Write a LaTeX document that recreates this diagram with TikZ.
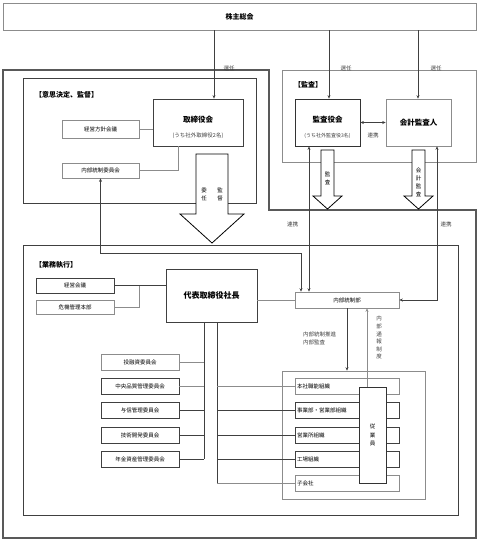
\documentclass[tikz,border=0pt]{standalone}
\usepackage{fontspec}
\setmainfont{Noto Sans CJK JP}
\usetikzlibrary{arrows.meta}
\definecolor{lg}{gray}{0.55}
\definecolor{dg}{gray}{0.25}
\tikzset{
  bx/.style={draw=lg, fill=white, inner sep=0pt, line width=0.6pt, font=\fontsize{5.5}{7}\selectfont},
  dbx/.style={bx, draw=dg, line width=0.8pt},
  frame/.style={draw=dg, line width=0.8pt},
  gframe/.style={draw=lg, line width=0.6pt},
  ln/.style={draw=dg, line width=0.6pt},
  gln/.style={draw=lg, line width=0.6pt},
  arr/.style={ln, -{Stealth[length=3.5pt,width=3pt]}},
  darr/.style={ln, {Stealth[length=3.5pt,width=3pt]}-{Stealth[length=3.5pt,width=3pt]}},
  bigarr/.style={draw=black, fill=white, line width=0.8pt, line join=miter},
  lbl/.style={inner sep=0pt, font=\fontsize{5.5}{7}\selectfont},
  vlbl/.style={inner sep=0pt, align=center, font=\fontsize{5.5}{8}\selectfont},
  ttl/.style={inner sep=0pt, font=\fontsize{7}{8}\selectfont\bfseries},
}
\begin{document}
\begin{tikzpicture}[x=1pt,y=-1pt]
\useasboundingbox (0,0) rectangle (480,542);
% outer frame
\draw[draw=gray!70!black, line width=1.2pt] (3,70) -- (269,70) -- (269,210) -- (476,210) -- (476,538) -- (3,538) -- cycle;
% frames
\node[frame, minimum width=233pt, minimum height=125pt, inner sep=0pt] (ishi) at (139.5,140.5) {};
\node[gframe, fill=white, minimum width=194pt, minimum height=92pt, inner sep=0pt] (kansa) at (379,116) {};
\node[frame, minimum width=435pt, minimum height=270pt, inner sep=0pt] (gyomu) at (240.5,380) {};
\node[gframe, minimum width=143pt, minimum height=128pt, inner sep=0pt] (cont) at (353.5,435) {};

% section labels
\node[ttl, anchor=west] (lIshi) at (35,95) {【意思決定、監督】};
\node[ttl, anchor=west] (lKansa) at (294,85) {【監査】};
\node[ttl, anchor=west] (lGyomu) at (35,265) {【業務執行】};

% top
\node[bx, minimum width=473pt, minimum height=27pt, font=\fontsize{7}{8}\selectfont\bfseries] (soukai) at (239.5,16.5) {株主総会};

% decision box
\node[dbx, minimum width=90pt, minimum height=47pt] (tori) at (198,122.5) {};
\node[ttl, font=\fontsize{7.5}{8}\selectfont\bfseries] (toriT) at (198,120) {取締役会};
\node[lbl, text=dg] (toriS) at (198,136) {(うち社外取締役2名)};
\node[bx, minimum width=77pt, minimum height=18pt] (hoshin) at (100.5,129) {経営方針会議};
\node[bx, minimum width=77pt, minimum height=15pt] (naibuI) at (100.5,170.5) {内部統制委員会};

% audit
\node[dbx, draw=gray!40!black, minimum width=65pt, minimum height=47pt] (kansayaku) at (327.5,122.5) {};
\node[ttl, font=\fontsize{7.5}{8}\selectfont\bfseries] (kyT) at (327.5,120) {監査役会};
\node[lbl, text=dg, font=\fontsize{5}{6}\selectfont] (kyS) at (327.5,136) {(うち社外監査役3名)};
\node[bx, minimum width=65pt, minimum height=47pt, font=\fontsize{7.5}{8}\selectfont\bfseries] (kaikei) at (418.5,122.5) {会計監査人};

% business
\node[dbx, minimum width=78pt, minimum height=15pt] (keieiK) at (75,285.5) {経営会議};
\node[bx, minimum width=78pt, minimum height=14pt] (kiki) at (75,307) {危機管理本部};
\node[dbx, minimum width=91pt, minimum height=53pt, font=\fontsize{8}{9}\selectfont\bfseries] (daihyo) at (211.5,295.5) {代表取締役社長};
\node[bx, minimum width=104pt, minimum height=16pt] (naibuB) at (347,300) {内部統制部};

% committees
\node[bx, minimum width=78pt, minimum height=16pt] (c1) at (140,362.5) {投融資委員会};
\node[dbx, minimum width=78pt, minimum height=16pt] (c2) at (140,386) {中央品質管理委員会};
\node[dbx, minimum width=78pt, minimum height=16pt] (c3) at (140,410.5) {与信管理委員会};
\node[dbx, minimum width=78pt, minimum height=16pt] (c4) at (140,435) {技術開発委員会};
\node[dbx, minimum width=78pt, minimum height=16pt] (c5) at (140,459) {年金資産管理委員会};

% organizations
\node[bx, minimum width=104pt, minimum height=16pt, text width=100pt, align=left] (o1) at (347,386) {本社職能組織};
\node[dbx, minimum width=104pt, minimum height=16pt, text width=100pt, align=left] (o2) at (347,410.5) {事業部・営業部組織};
\node[dbx, minimum width=104pt, minimum height=16pt, text width=100pt, align=left] (o3) at (347,435) {営業所組織};
\node[dbx, minimum width=104pt, minimum height=16pt, text width=100pt, align=left] (o4) at (347,459) {工場組織};
\node[bx, minimum width=104pt, minimum height=16pt, text width=100pt, align=left] (o5) at (347,483) {子会社};
\node[bx, draw=gray!40!black, minimum width=27pt, minimum height=96pt, align=center, font=\fontsize{5.5}{8.5}\selectfont] (ju) at (372.5,435) {従\\業\\員};

% helper coordinates
\coordinate (x214) at (214,0);
\coordinate (x329) at (329,0);
\coordinate (x418) at (418,0);
\coordinate (x178) at (178,0);
\coordinate (c301) at (301,253);
\coordinate (x309) at (309,0);
\coordinate (x437) at (437,0);
\coordinate (c139) at (139,285.5);
\coordinate (x204) at (204,0);
\coordinate (x217) at (217,0);
\coordinate (x367) at (367,0);
\coordinate (e204) at (204,459);
\coordinate (e217) at (217,483);

% 選任
\draw[arr] (soukai.south -| x214) -- (tori.north -| x214);
\draw[arr] (soukai.south -| x329) -- (kansayaku.north -| x329);
\draw[arr] (soukai.south -| x418) -- (kaikei.north -| x418);
\node[lbl, text=dg] (s1) at (229,68) {選任};
\node[lbl, text=dg] (s2) at (346,68) {選任};
\node[lbl, text=dg] (s3) at (436,68) {選任};

% decision connectors
\draw[gln] (hoshin.east) -- (hoshin.east -| tori.west);
\draw[gln] (tori.south -| x178) |- (naibuI.east);

% big arrow
\draw[bigarr] (196,154) -- (228,154) -- (228,214) -- (244,214) -- (212,243) -- (180,214) -- (196,214) -- cycle;
\node[vlbl] (inin) at (204,194) {委\\任};
\node[vlbl] (kantoku) at (220,194) {監\\督};

% audit arrows
\draw[darr] (kansayaku.east) -- (kaikei.west);
\node[lbl, text=dg] (renk) at (373,135) {連携};
\draw[bigarr] (321,150) -- (334,150) -- (334,196) -- (342,196) -- (327.5,209) -- (313,196) -- (321,196) -- cycle;
\node[vlbl] (kansaL) at (327.5,178) {監\\査};
\draw[bigarr] (412,150) -- (425,150) -- (425,196) -- (433,196) -- (418.5,209) -- (404,196) -- (412,196) -- cycle;
\node[vlbl] (kaikeiL) at (418.5,182) {会\\計\\監\\査};

% 連携 lines
\draw[darr] (naibuI.south) |- (c301) -- (naibuB.north -| c301);
\draw[darr] (kansayaku.south -| x309) -- (naibuB.north -| x309);
\draw[darr] (kaikei.south -| x437) |- (naibuB.east);
\node[lbl, text=dg] (r1) at (292.5,224) {連携};
\node[lbl, text=dg] (r2) at (446,224) {連携};

% business connectors
\draw[ln] (keieiK.east) -- (keieiK.east -| daihyo.west);
\draw[gln] (kiki.east) -| (c139);
\draw[gln] (naibuB.west -| daihyo.east) -- (naibuB.west);
\draw[ln] (daihyo.south -| x204) -- (e204);
\draw[ln] (daihyo.south -| x217) -- (e217);
\draw[gln] (c1.east) -- (c1.east -| x204);
\draw[gln] (c2.east) -- (c2.east -| x204);
\draw[ln] (c3.east) -- (c3.east -| x204);
\draw[ln] (c4.east) -- (c4.east -| x204);
\draw[ln] (c5.east) -- (e204);
\draw[gln] (o1.west -| x217) -- (o1.west);
\draw[ln] (o2.west -| x217) -- (o2.west);
\draw[ln] (o3.west -| x217) -- (o3.west);
\draw[ln] (o4.west -| x217) -- (o4.west);
\draw[gln] (e217) -- (o5.west);

% internal control
\draw[arr] (naibuB.south) -- (naibuB.south |- cont.north);
\draw[gln, -{Stealth[length=3.5pt,width=3pt]}] (ju.north -| x367) -- (naibuB.south -| x367);
\node[lbl, anchor=west, align=left, text=dg, font=\fontsize{5.5}{8}\selectfont] (suishin) at (303,338) {内部統制推進\\内部監査};
\node[vlbl, anchor=north, text=dg, font=\fontsize{5.5}{7.6}\selectfont] (tsuho) at (379,316) {内\\部\\通\\報\\制\\度};
\end{tikzpicture}
\end{document}
